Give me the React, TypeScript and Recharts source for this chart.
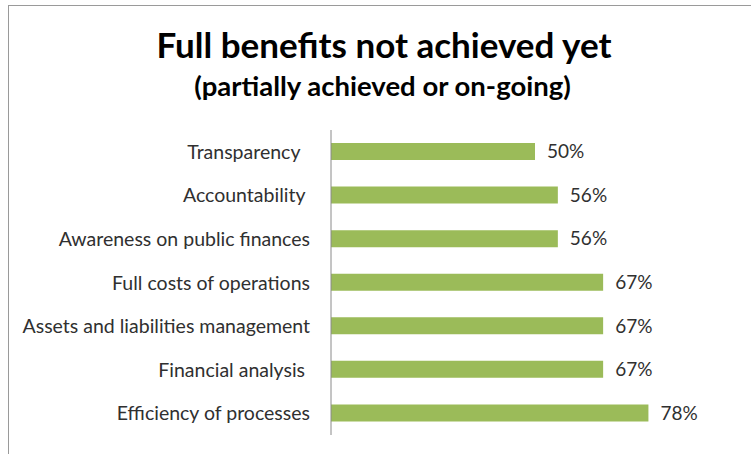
import { BarChart, Bar, XAxis, YAxis, LabelList } from 'recharts'

// trailing spaces kept as in the source labels
const categories = [
  'Transparency  ',
  'Accountability ',
  'Awareness on public finances',
  'Full costs of operations',
  'Assets and liabilities management',
  'Financial analysis ',
  'Efficiency of processes',
]
const shares = [50, 55.6, 55.6, 66.7, 66.7, 66.7, 77.8]

const data = categories.map((name, i) => ({ name, value: shares[i] }))

const font = 'Lato, "Open Sans", sans-serif'
const ink = '#303030'

function CategoryTick({ x, y, payload }: any) {
  return (
    <text
      x={x}
      y={y}
      dy="0.36em"
      textAnchor="end"
      fill={ink}
      fontSize={19.5}
      fontFamily={font}
      style={{ whiteSpace: 'pre' }}
    >
      {payload.value}
    </text>
  )
}

export default function App() {
  return (
    <div style={{ position: 'absolute', left: 0, top: 0, width: 751, height: 454, background: '#fff', fontFamily: font }}>
      <div style={{ position: 'absolute', left: 8, top: 5, width: 743, height: 1, background: '#9a9a9a' }} />
      <div style={{ position: 'absolute', left: 8, top: 5, width: 1, height: 449, background: '#9a9a9a' }} />
      <div style={{ position: 'absolute', left: 0, width: 768, top: 23, textAlign: 'center', fontSize: 35, fontWeight: 700, color: '#000', lineHeight: '42px' }}>
        Full benefits not achieved yet
      </div>
      <div style={{ position: 'absolute', left: 0, width: 765, top: 69, textAlign: 'center', fontSize: 27.5, fontWeight: 700, color: '#000', lineHeight: '33px' }}>
        (partially achieved or on-going)
      </div>
      <div style={{ position: 'absolute', left: 0, top: 0 }}>
        <BarChart
          width={751}
          height={454}
          data={data}
          layout="vertical"
          margin={{ top: 130, right: 12, bottom: 19, left: 0 }}
        >
          <XAxis type="number" domain={[0, 100]} hide />
          <YAxis
            type="category"
            dataKey="name"
            width={331}
            axisLine={{ stroke: '#8a8a8a' }}
            tickLine={false}
            tickMargin={15}
            tick={<CategoryTick />}
            interval={0}
          />
          <Bar dataKey="value" fill="#9bbb59" barSize={17} isAnimationActive={false}>
            <LabelList
              dataKey="value"
              position="right"
              offset={12}
              formatter={(v: number) => `${Math.round(v)}%`}
              style={{ fill: ink, fontSize: 19, fontFamily: font }}
            />
          </Bar>
        </BarChart>
      </div>
    </div>
  )
}
